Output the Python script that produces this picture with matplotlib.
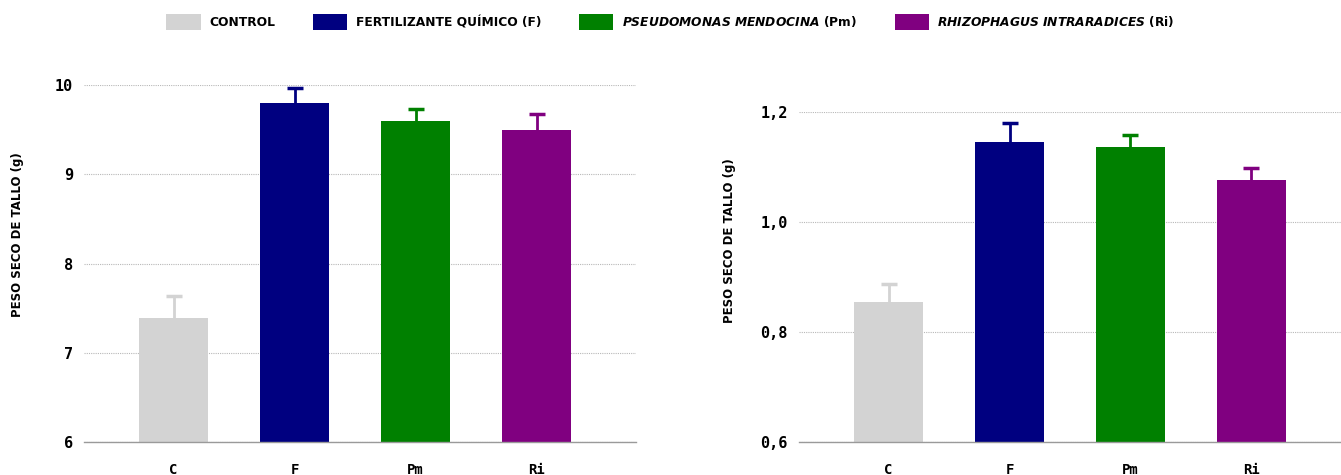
import matplotlib.pyplot as plt
from matplotlib.patches import Patch

plt.rcParams['font.family'] = ['DejaVu Sans']
plt.rcParams['mathtext.fontset'] = 'custom'
plt.rcParams['mathtext.it'] = 'DejaVu Sans:italic:bold'
plt.rcParams['mathtext.rm'] = 'DejaVu Sans:bold'

# treatments
groups = ['C', 'F', 'Pm', 'Ri']
colors = ['#d3d3d3', '#000080', '#008000', '#800080']
legend_labels = [
    'CONTROL',
    'FERTILIZANTE QUÍMICO (F)',
    r'$\it{PSEUDOMONAS\ MENDOCINA}$ (Pm)',
    r'$\it{RHIZOPHAGUS\ INTRARADICES}$ (Ri)',
]

# stem dry weight, experiment 1
peso_a = [7.39, 9.80, 9.60, 9.50]
err_a = [0.25, 0.17, 0.13, 0.17]
ticks_a = [6, 7, 8, 9, 10]
ticklabels_a = ['6', '7', '8', '9', '10']

# stem dry weight, experiment 2
peso_b = [0.855, 1.145, 1.136, 1.076]
err_b = [0.032, 0.035, 0.023, 0.022]
ticks_b = [0.6, 0.8, 1.0, 1.2]
ticklabels_b = ['0,6', '0,8', '1,0', '1,2']

W, H = 1341, 475
fig = plt.figure(figsize=(W / 100, H / 100), dpi=100)

ax1 = fig.add_axes([84 / W, 33 / H, 552 / W, 357 / H])
ax2 = fig.add_axes([799 / W, 33 / H, 542 / W, 330 / H])


def draw(ax, vals, errs, ticks, ticklabels, xlim):
    x = list(range(len(groups)))
    ax.bar(x, vals, width=0.57, color=colors, zorder=2)
    # upper error bar only, with a cap on top
    tops = [v + e for v, e in zip(vals, errs)]
    ax.vlines(x, vals, tops, colors=colors, linewidth=2, zorder=3)
    for xi, t, c in zip(x, tops, colors):
        ax.plot(xi, t, marker='_', markersize=12, markeredgewidth=2.5,
                color=c, zorder=3, clip_on=False)
    ax.set_ylim(ticks[0], ticks[-1])
    ax.set_xlim(*xlim)
    ax.set_yticks(ticks)
    ax.set_yticklabels(ticklabels, fontfamily='DejaVu Sans Mono',
                       fontweight='bold', fontsize=11)
    ax.set_xticks(x)
    ax.set_xticklabels(groups, fontfamily='DejaVu Sans Mono',
                       fontweight='bold', fontsize=10)
    ax.tick_params(axis='both', length=0)
    ax.tick_params(axis='y', pad=8)
    ax.tick_params(axis='x', pad=15)
    for s in ['top', 'right', 'left']:
        ax.spines[s].set_visible(False)
    ax.spines['bottom'].set_color('#9a9a9a')
    ax.spines['bottom'].set_linewidth(1)
    ax.grid(axis='y', linestyle=(0, (1, 1)), color='#b8b8b8', linewidth=0.8, zorder=0)
    ax.set_ylabel('PESO SECO DE TALLO (g)', fontweight='bold', fontsize=8.5)


draw(ax1, peso_a, err_a, ticks_a, ticklabels_a, (-0.74, 3.82))
draw(ax2, peso_b, err_b, ticks_b, ticklabels_b, (-0.74, 3.74))
ax1.yaxis.set_label_coords(-0.108, 0.58)
ax2.yaxis.set_label_coords(-0.116, 0.61)

handles = [Patch(facecolor=c, edgecolor='none') for c in colors]
fig.legend(handles, legend_labels, loc='center', bbox_to_anchor=(0.5, 1 - 22 / H),
           ncol=4, frameon=False, handlelength=2.8, handleheight=1.6,
           columnspacing=3.1, handletextpad=0.7,
           prop={'weight': 'bold', 'size': 8.8})

fig.savefig('out.png', dpi=100)
